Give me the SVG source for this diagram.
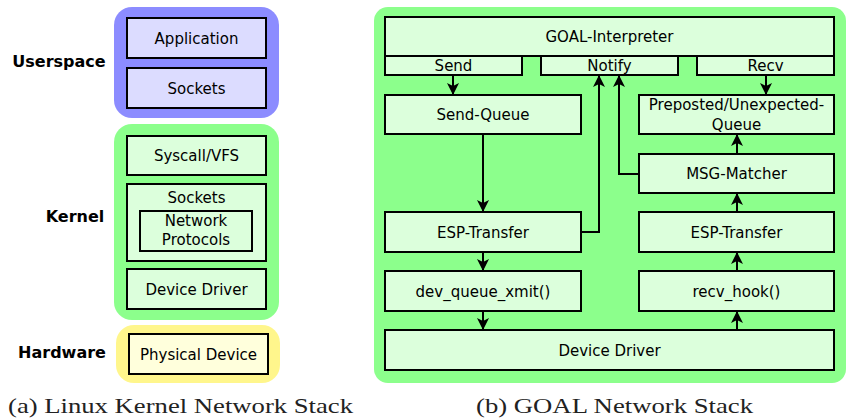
<svg xmlns="http://www.w3.org/2000/svg" width="846" height="420" viewBox="0 0 846 420">
  <style>
    .lbl { font-family: "DejaVu Sans", Verdana, sans-serif; font-size: 15px; fill: #000; text-anchor: middle; }
    .side { font-family: "DejaVu Sans", Verdana, sans-serif; font-size: 16px; font-weight: bold; fill: #000; text-anchor: middle; }
    .cap { font-family: "Liberation Serif", "DejaVu Serif", serif; font-size: 22px; fill: #222; }
    .box { stroke: #000; stroke-width: 2; }
    .g { fill: #dcffdc; }
    .b { fill: #dcdcff; }
    .y { fill: #ffffdc; }
    .conn { fill: none; stroke: #000; stroke-width: 2; }
  </style>
  <defs>
    <marker id="arr" viewBox="0 0 12 12" refX="11" refY="6" markerWidth="12" markerHeight="12" markerUnits="userSpaceOnUse" orient="auto">
      <path d="M0,0 L12,6 L0,12 L3,6 z" fill="#000"/>
    </marker>
  </defs>

  <rect width="846" height="420" fill="#fff"/>

  <!-- (a) Linux kernel network stack -->
  <g id="layer-labels">
    <text class="side" x="59" y="67">Userspace</text>
    <text class="side" x="75" y="222">Kernel</text>
    <text class="side" x="62" y="358">Hardware</text>
  </g>

  <g id="userspace">
    <rect x="114" y="7" width="165" height="111" rx="18" fill="#8c8cff"/>
  </g>
  <g id="application">
    <rect class="box b" x="127" y="18" width="139" height="40"/>
    <text class="lbl" x="196.5" y="43.5">Application</text>
  </g>
  <g id="user-sockets">
    <rect class="box b" x="127" y="68" width="139" height="40"/>
    <text class="lbl" x="196.5" y="93.5">Sockets</text>
  </g>

  <g id="kernel">
    <rect x="114" y="124" width="165" height="196" rx="18" fill="#8cff8c"/>
  </g>
  <g id="syscall-vfs">
    <rect class="box g" x="127" y="136" width="139" height="39"/>
    <text class="lbl" x="196.5" y="161">Syscall/VFS</text>
  </g>
  <g id="kernel-sockets">
    <rect class="box g" x="127" y="184" width="139" height="77"/>
    <text class="lbl" x="196.5" y="203">Sockets</text>
  </g>
  <g id="network-protocols">
    <rect class="box g" x="140" y="211" width="112" height="40"/>
    <text class="lbl" x="196" y="226">Network</text>
    <text class="lbl" x="196" y="245">Protocols</text>
  </g>
  <g id="kernel-device-driver">
    <rect class="box g" x="127" y="269" width="139" height="40"/>
    <text class="lbl" x="196.5" y="294.5">Device Driver</text>
  </g>

  <g id="hardware">
    <rect x="116" y="325" width="164" height="58" rx="18" fill="#fff68c"/>
  </g>
  <g id="physical-device">
    <rect class="box y" x="129" y="334" width="139" height="40"/>
    <text class="lbl" x="198.5" y="359.5">Physical Device</text>
  </g>

  <text class="cap" x="8" y="413" textLength="345" lengthAdjust="spacingAndGlyphs">(a) Linux Kernel Network Stack</text>

  <!-- (b) GOAL network stack -->
  <g id="goal-stack">
    <rect x="374" y="7" width="472" height="376" rx="14" fill="#8cff8c"/>
  </g>

  <g id="goal-interpreter">
    <path class="box g" d="M385,17 H834 V75 H697 V56 H678 V75 H541 V56 H522 V75 H385 Z"/>
    <text class="lbl" x="609.5" y="42">GOAL-Interpreter</text>
  </g>
  <g id="send">
    <rect class="box g" x="385" y="56" width="137" height="19"/>
    <text class="lbl" x="453.5" y="71">Send</text>
  </g>
  <g id="notify">
    <rect class="box g" x="541" y="56" width="137" height="19"/>
    <text class="lbl" x="609.5" y="71">Notify</text>
  </g>
  <g id="recv">
    <rect class="box g" x="697" y="56" width="137" height="19"/>
    <text class="lbl" x="765.5" y="71">Recv</text>
  </g>

  <g id="send-queue">
    <rect class="box g" x="385" y="95" width="196" height="39"/>
    <text class="lbl" x="483" y="120">Send-Queue</text>
  </g>
  <g id="preposted-queue">
    <rect class="box g" x="639" y="95" width="195" height="39"/>
    <text class="lbl" x="736.5" y="110">Preposted/Unexpected-</text>
    <text class="lbl" x="736.5" y="130">Queue</text>
  </g>
  <g id="msg-matcher">
    <rect class="box g" x="639" y="154" width="195" height="39"/>
    <text class="lbl" x="736.5" y="179">MSG-Matcher</text>
  </g>
  <g id="esp-transfer-send">
    <rect class="box g" x="385" y="212" width="196" height="40"/>
    <text class="lbl" x="483" y="237.5">ESP-Transfer</text>
  </g>
  <g id="esp-transfer-recv">
    <rect class="box g" x="639" y="212" width="195" height="40"/>
    <text class="lbl" x="736.5" y="237.5">ESP-Transfer</text>
  </g>
  <g id="dev-queue-xmit">
    <rect class="box g" x="385" y="271" width="196" height="40"/>
    <text class="lbl" x="483" y="296.5">dev_queue_xmit()</text>
  </g>
  <g id="recv-hook">
    <rect class="box g" x="639" y="271" width="195" height="40"/>
    <text class="lbl" x="736.5" y="296.5">recv_hook()</text>
  </g>
  <g id="goal-device-driver">
    <rect class="box g" x="385" y="330" width="449" height="40"/>
    <text class="lbl" x="609.5" y="355.5">Device Driver</text>
  </g>

  <g id="connectors">
    <path class="conn" d="M453,76 V94" marker-end="url(#arr)"/>
    <path class="conn" d="M766,76 V94" marker-end="url(#arr)"/>
    <path class="conn" d="M483,135 V211" marker-end="url(#arr)"/>
    <path class="conn" d="M581,232 H599 V76" marker-end="url(#arr)"/>
    <path class="conn" d="M639,174 H619 V76" marker-end="url(#arr)"/>
    <path class="conn" d="M737,154 V135" marker-end="url(#arr)"/>
    <path class="conn" d="M737,212 V194" marker-end="url(#arr)"/>
    <path class="conn" d="M737,271 V253" marker-end="url(#arr)"/>
    <path class="conn" d="M737,330 V312" marker-end="url(#arr)"/>
    <path class="conn" d="M483,253 V270" marker-end="url(#arr)"/>
    <path class="conn" d="M483,312 V329" marker-end="url(#arr)"/>
  </g>

  <text class="cap" x="476" y="413" textLength="277" lengthAdjust="spacingAndGlyphs">(b) GOAL Network Stack</text>
</svg>
